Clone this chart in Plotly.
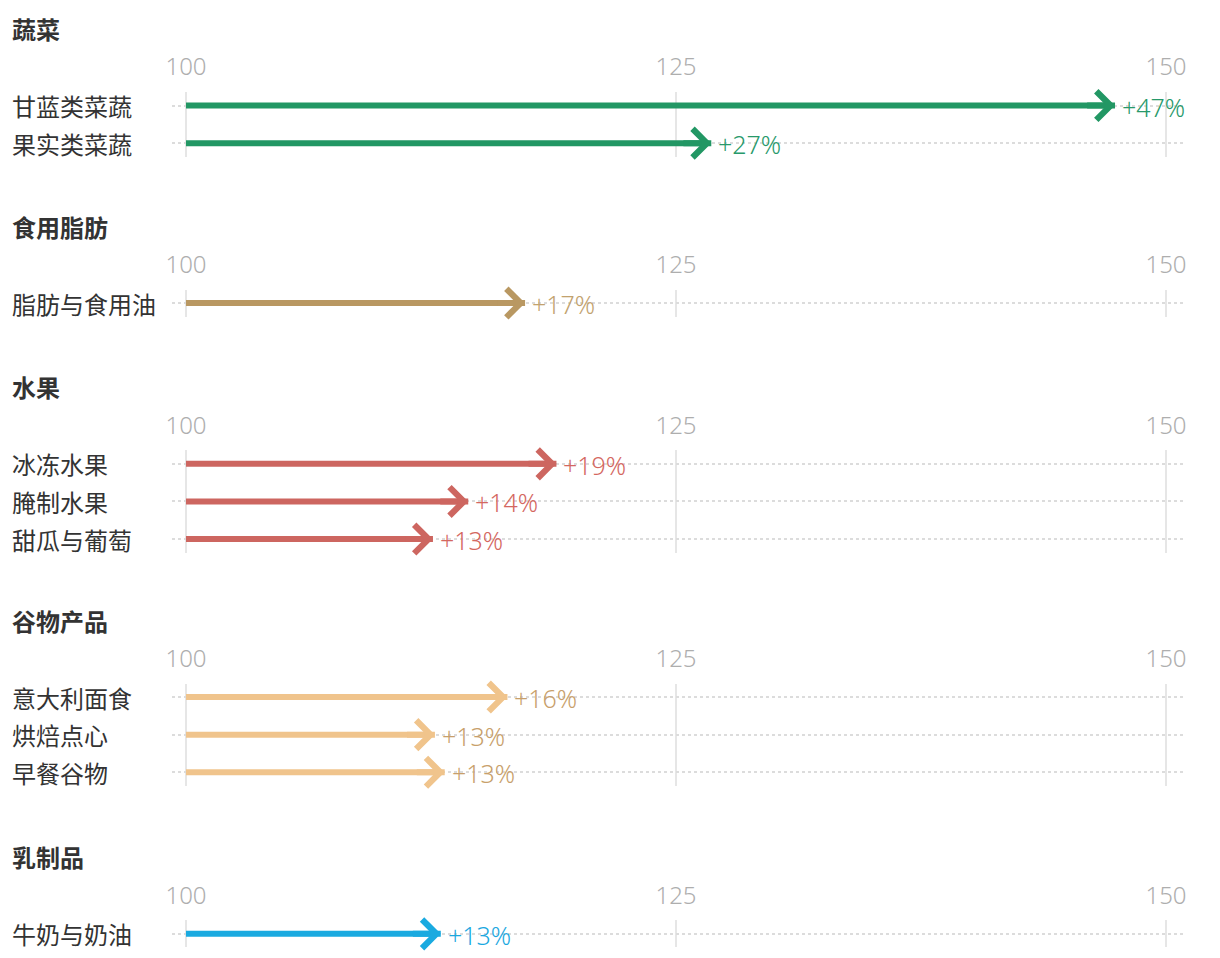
import plotly.graph_objects as go

# ---- data ----
group_titles = ["蔬菜", "食用脂肪", "水果", "谷物产品", "乳制品"]
group_items = [
    ["甘蓝类菜蔬", "果实类菜蔬"],
    ["脂肪与食用油"],
    ["冰冻水果", "腌制水果", "甜瓜与葡萄"],
    ["意大利面食", "烘焙点心", "早餐谷物"],
    ["牛奶与奶油"],
]
group_values = [
    [147.4, 126.8],
    [117.3],
    [118.9, 114.4, 112.6],
    [116.4, 112.7, 113.2],
    [113.0],
]
group_labels = [
    ["+47%", "+27%"],
    ["+17%"],
    ["+19%", "+14%", "+13%"],
    ["+16%", "+13%", "+13%"],
    ["+13%"],
]
base_value = 100
tick_values = [100, 125, 150]
tick_labels = ["100", "125", "150"]

# ---- styles ----
arrow_colors = ["#229764", "#b99862", "#cd6660", "#f0c48c", "#1aaae0"]
label_colors = ["#27996a", "#c2a26e", "#d4675f", "#c89f6b", "#1ba8df"]
row_tops_px = [92, 289.5, 450.3, 683.5, 920.3]
row_step_px = 37.6
pad_units = 0.36

W, H = 1220, 958
L, R = 172, 34
cjk = "Noto Sans CJK SC, Noto Sans, sans-serif"
num_font = "Noto Sans, sans-serif"

fig = go.Figure()
layout = dict(
    width=W, height=H, margin=dict(l=L, r=R, t=0, b=0),
    paper_bgcolor="white", plot_bgcolor="white", showlegend=False,
    font=dict(family=cjk, color="#333333"),
)
annotations = []
x_range = [100 - 14 / 19.6, 150 + 20 / 19.6]
left_x = -(L - 10) / (W - L - R)

for gi, (title, items, vals, labs) in enumerate(zip(group_titles, group_items, group_values, group_labels)):
    n = len(items)
    top = row_tops_px[gi]
    height = (n - 1 + 2 * pad_units) * row_step_px
    bottom = top + height
    dom = [1 - bottom / H, 1 - top / H]
    sfx = "" if gi == 0 else str(gi + 1)
    xa, ya = "x" + sfx, "y" + sfx
    layout["xaxis" + sfx] = dict(
        domain=[0, 1], anchor=ya, range=x_range, side="top",
        tickvals=tick_values, ticktext=tick_labels,
        ticks="outside", ticklen=6, tickcolor="rgba(0,0,0,0)",
        tickfont=dict(size=24, color="#aeaeae", family=num_font, weight=300),
        showgrid=True, gridcolor="#e6e6e6", gridwidth=2,
        zeroline=False, showline=False, fixedrange=True,
    )
    layout["yaxis" + sfx] = dict(
        domain=dom, anchor=xa, range=[n - 1 + pad_units, -pad_units],
        tickvals=list(range(n)), showticklabels=False, ticks="",
        showgrid=True, gridcolor="#dcdcdc", gridwidth=1.5, griddash="dot",
        zeroline=False, showline=False, fixedrange=True,
    )
    # group title
    annotations.append(dict(
        xref="paper", yref="paper", x=left_x, y=1 - (top - 63.5) / H,
        xanchor="left", yanchor="middle", showarrow=False, text="<b>" + title + "</b>",
        font=dict(size=24, color="#333333", family=cjk),
    ))
    for i, (name, v, lab) in enumerate(zip(items, vals, labs)):
        # row label
        annotations.append(dict(
            xref="paper", yref=ya, x=left_x, y=i,
            xanchor="left", yanchor="middle", showarrow=False, text=name,
            font=dict(size=24, color="#333333", family=cjk),
        ))
        # shaft
        fig.add_trace(go.Scatter(
            x=[base_value, v], y=[i, i], mode="lines", xaxis=xa, yaxis=ya,
            line=dict(color=arrow_colors[gi], width=6), hoverinfo="skip",
        ))
        # arrow head
        annotations.append(dict(
            xref=xa, yref=ya, x=v, y=i, axref=xa, ayref=ya, ax=v - 1.5, ay=i,
            text="", showarrow=True, arrowhead=4, arrowsize=0.92, arrowwidth=6,
            arrowcolor=arrow_colors[gi], standoff=0,
        ))
        # value label
        annotations.append(dict(
            xref=xa, yref=ya, x=v, y=i, xanchor="left", yanchor="middle",
            xshift=5, yshift=-1, showarrow=False, text=lab,
            font=dict(size=25, color=label_colors[gi], family=num_font, weight=300),
        ))

layout["annotations"] = annotations
fig.update_layout(**layout)
fig.write_html("out.html")
